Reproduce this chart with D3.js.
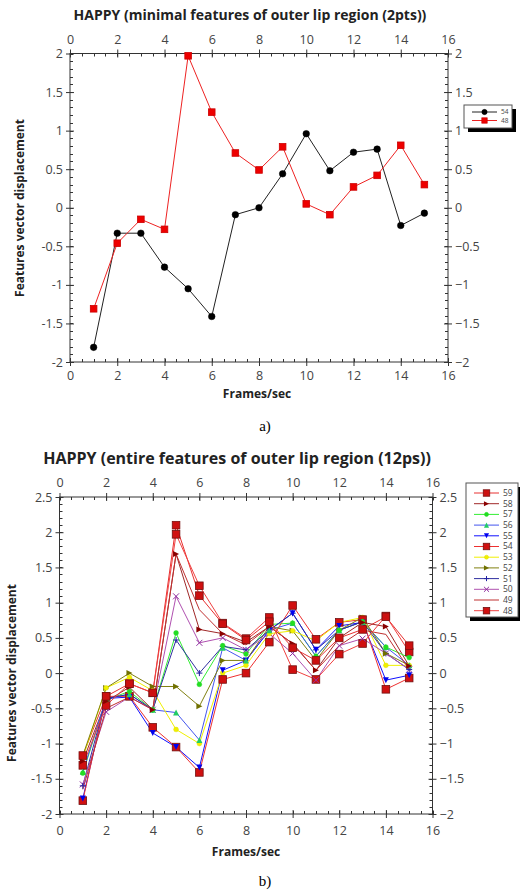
<!DOCTYPE html>
<html><head><meta charset="utf-8">
<script src="https://cdn.jsdelivr.net/npm/d3@7"></script>
<style>
html,body{margin:0;padding:0;background:#fff;}
svg{display:block;font-family:"Open Sans","Noto Sans",sans-serif;}
</style></head>
<body>
<svg id="c" width="520" height="894"></svg>
<script>
// ---------- data ----------
const frames = [1,2,3,4,5,6,7,8,9,10,11,12,13,14,15];
const xTicks = [0,2,4,6,8,10,12,14,16];
const yTicksTop = [-2,-1.5,-1,-0.5,0,0.5,1,1.5,2];
const yTicksBottom = [-2,-1.5,-1,-0.5,0,0.5,1,1.5,2,2.5];

// chart a) two points
const a54 = [-1.81,-0.33,-0.33,-0.77,-1.05,-1.41,-0.09,0.00,0.44,0.96,0.48,0.72,0.76,-0.23,-0.07];
const a48 = [-1.31,-0.46,-0.15,-0.28,1.97,1.24,0.71,0.49,0.79,0.05,-0.09,0.27,0.42,0.81,0.30];

// chart b) twelve points
const b59 = [-1.17,-0.33,-0.15,-0.28,2.10,1.10,0.70,0.47,0.73,0.36,0.18,0.50,0.62,0.80,0.39];
const b58 = [-1.25,-0.40,-0.20,-0.52,1.69,0.62,0.56,0.44,0.66,0.42,0.04,0.50,0.72,0.66,0.10];
const b57 = [-1.42,-0.38,-0.26,-0.52,0.57,-0.16,0.39,0.27,0.69,0.71,0.24,0.61,0.73,0.37,0.22];
const b56 = [-1.40,-0.36,-0.30,-0.52,-0.56,-0.95,0.36,0.18,0.61,0.71,0.24,0.61,0.73,0.37,0.11];
const b55 = [-1.78,-0.36,-0.34,-0.85,-1.05,-1.34,0.04,0.18,0.61,0.85,0.33,0.67,0.72,-0.10,-0.03];
const b54 = [-1.81,-0.33,-0.33,-0.77,-1.05,-1.41,-0.09,0.00,0.44,0.96,0.48,0.72,0.76,-0.23,-0.07];
const b53 = [-1.20,-0.21,-0.06,-0.25,-0.80,-1.00,0.00,0.11,0.56,0.60,0.46,0.72,0.79,0.11,0.11];
const b52 = [-1.17,-0.21,0.00,-0.19,-0.19,-0.47,0.18,0.18,0.66,0.60,0.18,0.61,0.79,0.28,0.11];
const b51 = [-1.60,-0.36,-0.30,-0.52,0.47,0.00,0.38,0.33,0.61,0.85,0.33,0.61,0.73,0.28,0.05];
const b50 = [-1.58,-0.55,-0.34,-0.52,1.09,0.43,0.50,0.33,0.56,0.28,-0.10,0.39,0.49,0.28,0.05];
const b49 = [-1.65,-0.50,-0.34,-0.52,1.69,0.90,0.56,0.40,0.66,0.42,0.04,0.39,0.61,0.55,0.05];
const b48 = [-1.31,-0.46,-0.15,-0.28,1.97,1.24,0.71,0.49,0.79,0.05,-0.09,0.27,0.42,0.81,0.30];

const namesA = ["54","48"];
const namesB = ["59","58","57","56","55","54","53","52","51","50","49","48"];

// ---------- styles ----------
const stylesA = {
  "54": {line:"#222", fill:"#000", stroke:"#000", sym:"circle", size:3.3},
  "48": {line:"#ee2222", fill:"#ee0000", stroke:"#cc0000", sym:"square", size:3.3}
};
const stylesB = {
  "59": {line:"#e83030", fill:"#cc1010", stroke:"#7a1010", sym:"square", size:3.8},
  "58": {line:"#a02828", fill:"#8b0000", stroke:"#8b0000", sym:"triright", size:3},
  "57": {line:"#33ee33", fill:"#22dd22", stroke:"#22dd22", sym:"circle", size:2.4},
  "56": {line:"#4455ee", fill:"#22cc66", stroke:"#22cc66", sym:"triup", size:3},
  "55": {line:"#1010ff", fill:"#0000ee", stroke:"#0000ee", sym:"tridown", size:3},
  "54": {line:"#ee3030", fill:"#d01010", stroke:"#701010", sym:"square", size:3.8},
  "53": {line:"#f0f000", fill:"#f0f000", stroke:"#e0e000", sym:"circle", size:2.4},
  "52": {line:"#808010", fill:"#707000", stroke:"#707000", sym:"triright", size:3},
  "51": {line:"#3030a0", fill:"#2020a0", stroke:"#2020a0", sym:"plus", size:3},
  "50": {line:"#b050b0", fill:"#9030a0", stroke:"#9030a0", sym:"cross", size:3},
  "49": {line:"#c03030", fill:"none", stroke:"none", sym:"none", size:0},
  "48": {line:"#f04040", fill:"#d01010", stroke:"#701010", sym:"square", size:3.8}
};

const svg = d3.select("#c");

function marker(g, sym, x, y, s, st) {
  if (sym === "none") return;
  if (sym === "circle") {
    g.append("circle").attr("cx", x).attr("cy", y).attr("r", s).attr("fill", st.fill).attr("stroke", st.stroke).attr("stroke-width", 0.5);
  } else if (sym === "square") {
    g.append("rect").attr("x", x - s).attr("y", y - s).attr("width", 2*s).attr("height", 2*s).attr("fill", st.fill).attr("stroke", st.stroke).attr("stroke-width", 0.8);
  } else if (sym === "triright") {
    g.append("path").attr("d", `M${x-s},${y-s}L${x+s},${y}L${x-s},${y+s}Z`).attr("fill", st.fill);
  } else if (sym === "triup") {
    g.append("path").attr("d", `M${x},${y-s}L${x+s},${y+s}L${x-s},${y+s}Z`).attr("fill", st.fill);
  } else if (sym === "tridown") {
    g.append("path").attr("d", `M${x-s},${y-s}L${x+s},${y-s}L${x},${y+s}Z`).attr("fill", st.fill);
  } else if (sym === "plus") {
    g.append("path").attr("d", `M${x-s},${y}H${x+s}M${x},${y-s}V${y+s}`).attr("stroke", st.stroke).attr("stroke-width", 1);
  } else if (sym === "cross") {
    g.append("path").attr("d", `M${x-s},${y-s}L${x+s},${y+s}M${x+s},${y-s}L${x-s},${y+s}`).attr("stroke", st.stroke).attr("stroke-width", 1);
  }
}

function drawChart(cfg) {
  const x = d3.scaleLinear().domain([0,16]).range([cfg.left, cfg.right]);
  const y = d3.scaleLinear().domain(cfg.yDomain).range([cfg.bottom, cfg.top]);
  const g = svg.append("g");
  const axisColor = "#333";
  const labColor = "#444";

  g.append("rect").attr("x", cfg.left).attr("y", cfg.top).attr("width", cfg.right - cfg.left).attr("height", cfg.bottom - cfg.top)
    .attr("fill", "none").attr("stroke", axisColor).attr("stroke-width", 1);

  const xMinor = d3.range(0, 16.001, 0.5);
  const yMinor = d3.range(cfg.yDomain[0], cfg.yDomain[1] + 0.001, 0.1);
  const tk = g.append("g").attr("stroke", axisColor).attr("stroke-width", 1);
  xMinor.forEach(v => {
    const px = Math.round(x(v)) + 0.5;
    tk.append("line").attr("x1", px).attr("x2", px).attr("y1", cfg.top).attr("y2", cfg.top + 3);
    tk.append("line").attr("x1", px).attr("x2", px).attr("y1", cfg.bottom).attr("y2", cfg.bottom - 3);
  });
  yMinor.forEach(v => {
    const py = Math.round(y(v)) + 0.5;
    tk.append("line").attr("y1", py).attr("y2", py).attr("x1", cfg.left).attr("x2", cfg.left + 3);
    tk.append("line").attr("y1", py).attr("y2", py).attr("x1", cfg.right).attr("x2", cfg.right - 3);
  });

  const mk = (axis) => axis.tickSizeInner(5).tickSizeOuter(0).tickPadding(3);
  const fmtL = d => String(d);
  const fmtR = d => String(d).replace("-", "\u2212");
  const axB = g.append("g").attr("transform", `translate(0,${cfg.bottom})`).call(mk(d3.axisBottom(x).tickValues(xTicks)));
  const axT = g.append("g").attr("transform", `translate(0,${cfg.top})`).call(mk(d3.axisTop(x).tickValues(xTicks)));
  const axL = g.append("g").attr("transform", `translate(${cfg.left},0)`).call(mk(d3.axisLeft(y).tickValues(cfg.yTicks).tickFormat(fmtL)));
  const axR = g.append("g").attr("transform", `translate(${cfg.right},0)`).call(mk(d3.axisRight(y).tickValues(cfg.yTicks).tickFormat(fmtR)));
  [axB, axT, axL, axR].forEach(a => {
    a.select(".domain").remove();
    a.selectAll(".tick line").attr("stroke", axisColor);
    a.selectAll("text").attr("fill", labColor).style("font-size", "12.5px").style("font-family", '"Open Sans","Noto Sans",sans-serif');
  });
  axB.selectAll(".tick line").attr("y1", -4).attr("y2", 4);
  axT.selectAll(".tick line").attr("y1", 4).attr("y2", -4);
  axL.selectAll(".tick line").attr("x1", 4).attr("x2", -4);
  axR.selectAll(".tick line").attr("x1", -4).attr("x2", 4);
  axB.selectAll("text").attr("y", cfg.botLabOff);
  axT.selectAll("text").attr("y", -10);
  axL.selectAll("text").attr("x", -7);
  axR.selectAll("text").attr("x", 7);

  const line = d3.line().x((d, i) => x(frames[i])).y(d => y(d));
  const sg = g.append("g");
  cfg.names.forEach(n => {
    const st = cfg.styles[n];
    sg.append("path").datum(cfg.data[n]).attr("d", line).attr("fill", "none").attr("stroke", st.line).attr("stroke-width", 1);
  });
  cfg.names.slice().reverse().forEach(n => {
    const st = cfg.styles[n];
    const mg = sg.append("g");
    cfg.data[n].forEach((v, i) => marker(mg, st.sym, x(frames[i]), y(v), st.size, st));
  });

  svg.append("text").attr("x", cfg.titleX).attr("y", cfg.titleY).attr("text-anchor", "middle")
    .attr("fill", "#222").style("font-weight", "700").style("font-size", cfg.titleSize + "px").text(cfg.title);
  svg.append("text").attr("x", cfg.xLabX).attr("y", cfg.xLabY).attr("text-anchor", "middle")
    .attr("fill", "#222").style("font-weight", "700").style("font-size", "12px").text("Frames/sec");
  svg.append("text").attr("transform", `translate(${cfg.yLabX},${cfg.yLabY}) rotate(-90)`).attr("text-anchor", "middle")
    .attr("fill", "#222").style("font-weight", "700").style("font-size", "12px").text("Features vector displacement");
  svg.append("text").attr("x", cfg.capX).attr("y", cfg.capY).attr("text-anchor", "middle")
    .attr("fill", "#000").style("font-family", '"Liberation Serif","DejaVu Serif",serif').style("font-size", "15px").text(cfg.caption);

  const L = cfg.legend;
  const lg = svg.append("g");
  lg.append("rect").attr("x", L.x + 4).attr("y", L.y + 4).attr("width", L.w).attr("height", L.h).attr("fill", "#000");
  lg.append("rect").attr("x", L.x).attr("y", L.y).attr("width", L.w).attr("height", L.h).attr("fill", "#fff").attr("stroke", "#555").attr("stroke-width", 1);
  cfg.names.forEach((n, i) => {
    const st = cfg.styles[n];
    const ry = L.y + L.first + i * L.step;
    lg.append("line").attr("x1", L.x + 8).attr("x2", L.x + 33).attr("y1", ry).attr("y2", ry).attr("stroke", st.line).attr("stroke-width", 1);
    marker(lg, st.sym, L.x + 20.5, ry, st.size * L.msc, st);
    lg.append("text").attr("x", L.x + 37).attr("y", ry + L.fs * 0.35).attr("fill", "#444").style("font-size", L.fs + "px").text(n);
  });
}

drawChart({
  left: 70, right: 448, top: 53.5, bottom: 362, yDomain: [-2, 2], yTicks: yTicksTop, botLabOff: 9,
  names: namesA, styles: stylesA, data: {"54": a54, "48": a48},
  title: "HAPPY (minimal features of outer lip region (2pts))", titleX: 250, titleY: 20, titleSize: 14,
  xLabX: 257, xLabY: 398, yLabX: 24, yLabY: 208, capX: 265, capY: 431, caption: "a)",
  legend: {x: 464, y: 105, w: 48, h: 23, first: 7, step: 8.5, fs: 6.5, msc: 0.8}
});

drawChart({
  left: 59.5, right: 432.5, top: 497, bottom: 814, yDomain: [-2, 2.5], yTicks: yTicksBottom, botLabOff: 12,
  names: namesB, styles: stylesB, data: {"59": b59, "58": b58, "57": b57, "56": b56, "55": b55, "54": b54, "53": b53, "52": b52, "51": b51, "50": b50, "49": b49, "48": b48},
  title: "HAPPY  (entire features of outer lip region (12ps))", titleX: 237, titleY: 464, titleSize: 16,
  xLabX: 246, xLabY: 856, yLabX: 16, yLabY: 673, capX: 265, capY: 886, caption: "b)",
  legend: {x: 466, y: 483, w: 52, h: 134, first: 10, step: 10.7, fs: 8.5, msc: 0.85}
});
</script>
</body></html>
